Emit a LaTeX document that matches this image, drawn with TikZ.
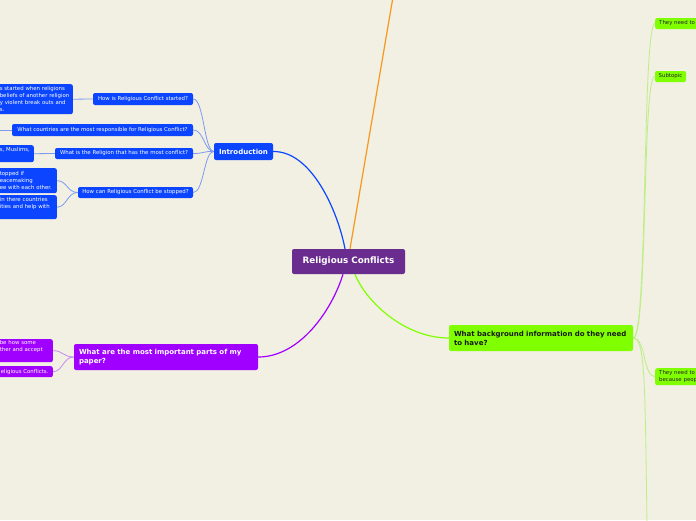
\documentclass[tikz,border=0pt]{standalone}
\usepackage{fontspec}
\setmainfont{DejaVu Sans}
\definecolor{bg}{HTML}{F2EFE3}
\definecolor{cblue}{HTML}{0B45FF}
\definecolor{lblue}{HTML}{7C9AF2}
\definecolor{cpurple}{HTML}{6A2D8F}
\definecolor{corange}{HTML}{F7981D}
\definecolor{cviolet}{HTML}{A000FF}
\definecolor{lviolet}{HTML}{C58AF2}
\definecolor{cgreen}{HTML}{80FF00}
\definecolor{lgreen}{HTML}{BDEE86}
\pgfdeclarelayer{bgl}
\pgfsetlayers{bgl,main}
\tikzset{
  box/.style={rounded corners=2pt, inner sep=0pt, text=white, font=\fontsize{5.4}{7}\selectfont},
  bbox/.style={box, fill=cblue},
  vbox/.style={box, fill=cviolet},
  gbox/.style={box, fill=cgreen, text=black!85},
  head/.style={font=\bfseries\fontsize{7}{9}\selectfont},
  leafl/.style={anchor=north east, align=left, inner xsep=4pt, inner ysep=0pt},
  leafr/.style={anchor=north west, align=left, inner xsep=4pt, inner ysep=0pt},
  mainline/.style={line width=1.2pt},
  subline/.style={line width=0.8pt},
}
\begin{document}
\begin{tikzpicture}[x=1pt,y=-1pt]
\useasboundingbox (0,0) rectangle (696,520);
\clip (0,0) rectangle (696,520);
% central
\node[box, fill=cpurple, font=\bfseries\fontsize{8.8}{10}\selectfont, minimum width=113pt, minimum height=25pt] (center) at (348.5,261.5) {Religious Conflicts};
% introduction branch
\node[bbox, head, minimum width=59pt, minimum height=17pt] (intro) at (243.5,151.5) {Introduction};
\node[bbox, minimum width=100pt, minimum height=12pt] (q1) at (143,99) {How is Religious Conflict started?};
\node[bbox, minimum width=181pt, minimum height=12pt] (q2) at (102.5,130) {What countries are the most responsible for Religious Conflict?};
\node[bbox, minimum width=138pt, minimum height=11pt] (q3) at (124,153.5) {What is the Religion that has the most conflict?};
\node[bbox, minimum width=115pt, minimum height=11pt] (q4) at (135.5,192.5) {How can Religious Conflict be stopped?};
\node[bbox, leafl, text width=69pt, minimum height=30pt] (l1) at (73,84) {\mbox{s started when religions}\\\mbox{beliefs of another religion}\\\mbox{y violent break outs and}\\\mbox{s.}};
\node[bbox, leafl, text width=30pt, minimum height=17pt] (l3) at (34,145) {\mbox{s, Muslims,}\\\strut};
\node[bbox, leafl, text width=53pt, minimum height=25pt] (l4a) at (57,168) {\mbox{topped if}\\\mbox{eacemaking}\\\mbox{ee with each other.}};
\node[bbox, leafl, text width=53pt, minimum height=24pt] (l4b) at (57,195) {\mbox{in there countries}\\\mbox{ities and help with}\\\strut};
\coordinate (q2end) at (-6,130);
% paper branch
\node[vbox, head, align=left, text width=174pt, inner xsep=5pt, minimum height=26pt] (paper) at (166,357) {What are the most important parts of my\\paper?};
\node[vbox, leafl, text width=49pt, minimum height=23pt] (lp1) at (53,339) {\mbox{be how some}\\\mbox{ther and accept}\\\strut};
\node[vbox, leafl, text width=49pt, inner xsep=3pt, minimum height=11pt] (lp2) at (53,366) {\mbox{eligious Conflicts.}};
% background branch
\node[gbox, head, align=left, text width=174pt, inner xsep=5pt, minimum height=26pt, text=black!90] (gmain) at (541,338) {What background information do they need\\to have?};
\node[gbox, leafr, anchor=west, text width=52pt, minimum height=11pt] (gl1) at (655,23.5) {\mbox{They need to}};
\node[gbox, minimum width=31pt, minimum height=11pt] (gl2) at (670.5,76.5) {Subtopic};
\node[gbox, leafr, text width=52pt, minimum height=17pt] (gl3) at (655,368) {\mbox{They need to}\\\mbox{because peop}};
\coordinate (gbot) at (647,525);
\coordinate (otop) at (393,-3);
\begin{pgfonlayer}{bgl}
\fill[bg] (0,0) rectangle (696,520);
% main connectors
\draw[cblue, mainline] ([xshift=-3.5pt]center.north) .. controls (338,212) and (312,151) .. (intro.east);
\draw[corange, mainline] ([xshift=1.5pt]center.north) -- (otop);
\draw[cviolet, mainline] ([xshift=-5.5pt]center.south) .. controls (332,310) and (300,357) .. (paper.east);
\draw[cgreen, mainline] ([xshift=6.5pt]center.south) .. controls (366,302) and (405,338) .. (gmain.west);
% introduction children
\draw[lblue, subline] (intro.west) .. controls (204,151) and (204,99) .. (q1.east);
\draw[lblue, subline] (intro.west) .. controls (204,151) and (204,130) .. (q2.east);
\draw[lblue, subline] (intro.west) .. controls (204,151) and (204,153.5) .. (q3.east);
\draw[lblue, subline] (intro.west) .. controls (204,151) and (204,192.5) .. (q4.east);
\draw[lblue, subline] (q1.west) -- (l1.east);
\draw[lblue, subline] (q2.west) -- (q2end);
\draw[lblue, subline] (q3.west) -- (l3.east);
\draw[lblue, subline] (q4.west) .. controls (67,192.5) and (67,180.5) .. (l4a.east);
\draw[lblue, subline] (q4.west) .. controls (67,192.5) and (67,207) .. (l4b.east);
% paper children
\draw[lviolet, subline] (paper.west) .. controls (63,357) and (63,350.5) .. (lp1.east);
\draw[lviolet, subline] (paper.west) .. controls (63,357) and (63,371.5) .. (lp2.east);
% background children
\draw[lgreen, subline] (gmain.east) .. controls (648,338) and (642,23.5) .. (gl1.west);
\draw[lgreen, subline] (gmain.east) .. controls (648,338) and (642,76.5) .. (gl2.west);
\draw[lgreen, subline] (gmain.east) .. controls (646,338) and (643,376.5) .. (gl3.west);
\draw[lgreen, subline] (gmain.east) .. controls (645,338) and (645,380) .. (gbot);
\end{pgfonlayer}
\end{tikzpicture}
\end{document}
